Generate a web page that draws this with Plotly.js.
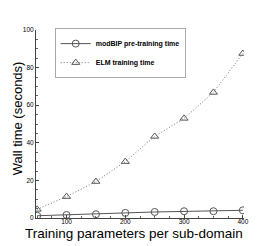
<!DOCTYPE html>
<html>
<head>
<meta charset="utf-8">
<script src="https://cdn.plot.ly/plotly-3.0.1.min.js"></script>
<style>html,body{margin:0;padding:0;background:#fff;}#chart{width:277px;height:246px;}</style>
</head>
<body>
<div id="chart"></div>
<script>
var params = [50, 100, 150, 200, 250, 300, 350, 400];
var modBIP = [1.2, 1.6, 2.0, 2.7, 3.2, 3.6, 3.6, 4.1];
var elm = [4.6, 11.4, 19.4, 30.0, 43.4, 53.0, 66.8, 87.5];
var seriesNames = ['modBIP pre-training time', 'ELM training time'];
var xTitle = 'Training parameters per sub-domain';
var yTitle = 'Wall time (seconds)';

var col = '#555555';
var traces = [
  {x: params, y: modBIP, name: '<b>' + seriesNames[0] + '</b>', type: 'scatter', mode: 'lines+markers',
   line: {color: col, width: 1, dash: 'solid'},
   marker: {symbol: 'circle-open', size: 7, color: col, line: {width: 1, color: col}}},
  {x: params, y: elm, name: '<b>' + seriesNames[1] + '</b>', type: 'scatter', mode: 'lines+markers',
   line: {color: '#777', width: 1, dash: '1px,2px'},
   marker: {symbol: 'triangle-up-open', size: 7, color: col, line: {width: 1, color: col}}}
];

var layout = {
  width: 277, height: 246,
  margin: {l: 36, r: 33, t: 30, b: 28},
  paper_bgcolor: '#fff', plot_bgcolor: '#fff',
  font: {family: 'Liberation Sans, Arial, sans-serif', color: '#000'},
  showlegend: true,
  legend: {x: 0.09, y: 1.01, xanchor: 'left', yanchor: 'top',
    bgcolor: '#fff', bordercolor: '#aaa', borderwidth: 1,
    font: {size: 7, color: '#000'}, itemwidth: 30, tracegroupgap: 0},
  xaxis: {range: [48, 402], tickvals: [100, 200, 300, 400], showgrid: false, zeroline: false,
    showline: true, linecolor: '#444', linewidth: 1, ticks: 'inside', ticklen: 3, tickcolor: '#444',
    tickfont: {size: 6.5}, automargin: false, ticklabelstandoff: -3,
    minor: {dtick: 25, tick0: 0, ticks: 'inside', ticklen: 2, tickcolor: '#666', showgrid: false}},
  yaxis: {range: [0, 100], tickvals: [0, 20, 40, 60, 80, 100], showgrid: false, zeroline: false,
    showline: true, linecolor: '#444', linewidth: 1, ticks: 'inside', ticklen: 3, tickcolor: '#444',
    tickfont: {size: 6.5}, automargin: false,
    minor: {dtick: 5, ticks: 'inside', ticklen: 2, tickcolor: '#666', showgrid: false}},
  annotations: [
    {text: xTitle, xref: 'paper', yref: 'paper', x: 0.47, y: -0.037, xanchor: 'center', yanchor: 'top',
     showarrow: false, borderpad: 0, font: {size: 13.5, color: '#000'}},
    {text: yTitle, xref: 'paper', yref: 'paper', x: -0.092, y: 0.53, xanchor: 'center', yanchor: 'middle',
     textangle: -90, showarrow: false, font: {size: 13, color: '#000'}}
  ]
};

Plotly.newPlot('chart', traces, layout, {displayModeBar: false, staticPlot: true});
</script>
</body>
</html>
